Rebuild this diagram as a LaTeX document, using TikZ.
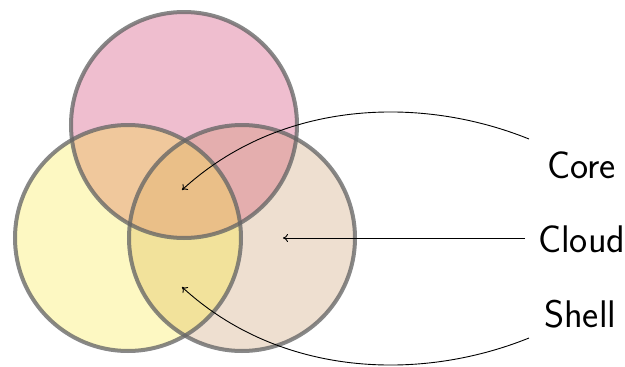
\documentclass[tikz,border=0pt]{standalone}
\usepackage{fontspec}
\usetikzlibrary{arrows.meta}
\definecolor{cPink}{HTML}{EFBECF}
\definecolor{cYel}{HTML}{FDF8C2}
\definecolor{cBei}{HTML}{EEDFD0}
\definecolor{cTL}{HTML}{F0C89C}
\definecolor{cTR}{HTML}{E4AEAE}
\definecolor{cLR}{HTML}{F2E29B}
\definecolor{cAll}{HTML}{EABF88}
\definecolor{cRim}{HTML}{666666}
\tikzset{
  rim/.style={draw=cRim, draw opacity=0.78, line width=4pt},
  lbl/.style={font=\sffamily\fontsize{38.5}{46}\selectfont, inner sep=0pt, anchor=base west},
  pointer/.style={line width=0.9pt, -{To[length=5pt,width=8pt]}}
}
\begin{document}
\begin{tikzpicture}[x=1pt,y=-1pt]
\useasboundingbox (0,0) rectangle (625,367);
\def\rr{113}
\coordinate (T) at (184,125);
\coordinate (L) at (128,238);
\coordinate (R) at (242,238);
% base fills
\fill[cPink] (T) circle (\rr);
\fill[cYel] (L) circle (\rr);
\fill[cBei] (R) circle (\rr);
% pairwise
\begin{scope}
  \clip (T) circle (\rr);
  \fill[cTL] (L) circle (\rr);
  \fill[cTR] (R) circle (\rr);
\end{scope}
\begin{scope}
  \clip (L) circle (\rr);
  \fill[cLR] (R) circle (\rr);
\end{scope}
\begin{scope}
  \clip (T) circle (\rr);
  \clip (L) circle (\rr);
  \fill[cAll] (R) circle (\rr);
\end{scope}
% rims
\path[rim] (T) circle (\rr);
\path[rim] (L) circle (\rr);
\path[rim] (R) circle (\rr);
% labels
\node[lbl] (core) at (547,178) {Core};
\node[lbl] (cloud) at (538,252) {Cloud};
\node[lbl] (shell) at (544,327) {Shell};
% pointer ends
\coordinate (coreS) at (529,139);
\coordinate (coreE) at (182,190);
\coordinate (cloudS) at (525,238);
\coordinate (cloudE) at (283,238);
\coordinate (shellS) at (529,338);
\coordinate (shellE) at (182,287);
\draw[pointer] (coreS) .. controls (420,95) and (280,100) .. (coreE);
\draw[pointer] (cloudS) -- (cloudE);
\draw[pointer] (shellS) .. controls (420,382) and (280,377) .. (shellE);
\end{tikzpicture}
\end{document}
